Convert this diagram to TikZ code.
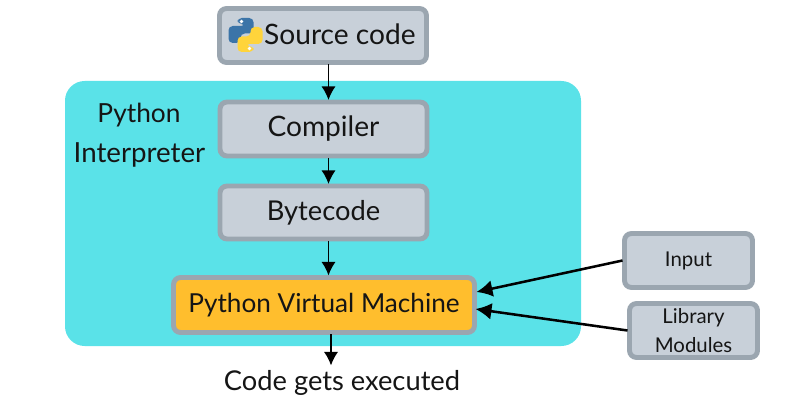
\documentclass[tikz,border=0pt]{standalone}
\usepackage{fontspec}
\setmainfont{Lato}
\usepackage{xcolor}
\usetikzlibrary{arrows.meta,calc}
\definecolor{cyanpanel}{HTML}{5AE2E8}
\definecolor{boxfill}{HTML}{C8D0D9}
\definecolor{boxline}{HTML}{9BA6B0}
\definecolor{vmfill}{HTML}{FFBE2D}
\definecolor{pyblue}{HTML}{3B74A8}
\definecolor{pyyellow}{HTML}{FFD43B}
\definecolor{inktext}{HTML}{151515}
\tikzset{
  stagebox/.style={draw=boxline,fill=boxfill,line width=3.5pt,rounded corners=5pt,outer sep=0pt,
    text=inktext,font=\fontsize{20}{24}\selectfont},
  sidebox/.style={stagebox,font=\fontsize{14.5}{21}\selectfont,align=center,inner sep=0pt},
  flow/.style={draw=black,line width=1.4pt,-{Latex[length=3.4mm,width=3.6mm]}},
  sideflow/.style={flow,line width=1.8pt,-{Latex[length=4mm,width=4.2mm]}}
}

\begin{document}
\begin{tikzpicture}[x=0.025cm,y=-0.025cm]
\useasboundingbox (0,0) rectangle (800,400);
% interpreter panel
\fill[cyanpanel,rounded corners=14pt] (65,81) rectangle (581,346);
\node[text=inktext,font=\fontsize{18.7}{24}\selectfont] (panelA) at (139,115) {Python};
\node[text=inktext,font=\fontsize{19.7}{24}\selectfont] (panelB) at (139.5,155) {Interpreter};
% main stages
\node[stagebox,minimum width=207*0.711pt,minimum height=54*0.711pt] (source) at (323,35.5) {\hspace{24pt}\raisebox{1.5pt}{Source code}};
\node[stagebox,minimum width=207*0.711pt,minimum height=54*0.711pt] (compiler) at (323.5,129) {\raisebox{.7pt}{Compiler}};
\node[stagebox,font=\fontsize{19.4}{24}\selectfont,minimum width=207*0.711pt,minimum height=53*0.711pt] (bytecode) at (323.5,212.5) {\raisebox{.7pt}{Bytecode}};
\node[stagebox,fill=vmfill,font=\fontsize{18.6}{24}\selectfont,minimum width=301*0.711pt,minimum height=55*0.711pt] (pvm) at (324,305) {\raisebox{1.4pt}{Python Virtual Machine}};
\node[sidebox,minimum width=128*0.711pt,minimum height=54*0.711pt] (input) at (688.5,260.5) {Input};
\node[sidebox,minimum width=128*0.711pt,minimum height=54*0.711pt] (library) at (693.5,330.5) {Library\\Modules};
\node[text=inktext,font=\fontsize{19.4}{24}\selectfont] (output) at (342,383) {Code gets executed};
% logo
\begin{scope}[shift={(245.5,35)}]
\foreach \logocol/\ang in {pyblue/0,pyyellow/180}{
  \begin{scope}[rotate=\ang]
    \fill[\logocol,rounded corners=3pt] (-8,-17) -- (8,-17) -- (8,-1.5) -- (-5,-1.5) -- (-5,8) -- (-17,8)
      -- (-17,-9) -- (0,-9) -- (0,-11) -- (-8,-11) -- cycle;
    \fill[white] (-4,-13.5) circle (1.4pt);
  \end{scope}}
\end{scope}
% connectors
\draw[flow] ($(source.south)+(5.5,2)$) -- ($(compiler.north)+(5,-2)$);
\draw[flow] ($(compiler.south)+(5,2)$) -- ($(bytecode.north)+(5,-2)$);
\draw[flow] ($(bytecode.south)+(5,2)$) -- ($(pvm.north)+(4.5,-2)$);
\draw[flow] ($(pvm.south)+(7,2)$) -- ($(output.north)+(-11,0)$);
\draw[sideflow] ($(input.west)+(-2,0)$) -- ($(pvm.east)+(2,-13)$);
\draw[sideflow] ($(library.west)+(-2,0)$) -- ($(pvm.east)+(1,4)$);
\end{tikzpicture}
\end{document}
